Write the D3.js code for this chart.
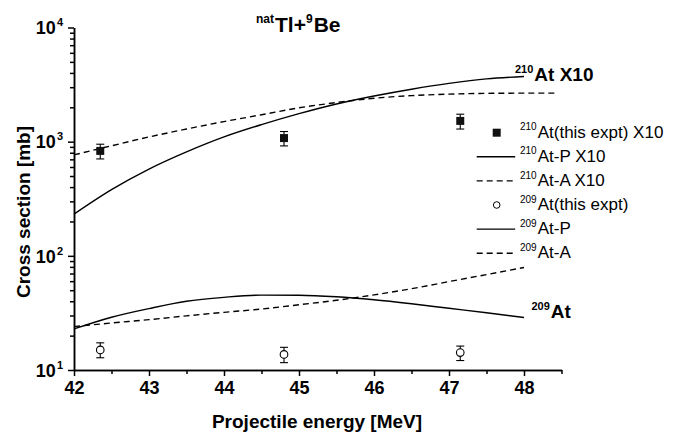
<!DOCTYPE html>
<html>
<head>
<meta charset="utf-8">
<script src="https://cdn.jsdelivr.net/npm/d3@7"></script>
<style>
    body { margin: 0; background: #fff; }
    svg { font-family: "Liberation Sans", Arial, sans-serif; }
    .axis path, .axis line { stroke: #000; stroke-width: 1.5; }
    .curve { fill: none; stroke: #000; stroke-width: 1.4; }
    .dashed { stroke-dasharray: 6, 4; }
    .errbar { stroke: #000; stroke-width: 1.1; }
    .bold { font-weight: bold; }
</style>
</head>
<body>
<div id="chart"></div>
<script>
// Cross sections of 210At and 209At from natTl + 9Be, log scale

let width = 676;
let height = 436;

// Energy grid of the model curves [MeV]
let energyGrid = [42, 42.5, 43, 43.5, 44, 44.5, 45, 45.5, 46, 46.5, 47, 47.5, 48];

// 210At-P X10 (solid)
let at210P = [232, 380, 575, 813, 1100, 1410, 1760, 2140, 2510, 2880, 3240, 3550, 3720];

// 210At-A X10 (dashed), runs a bit past 48 MeV
let at210AEnergy = [42, 42.5, 43, 43.5, 44, 44.5, 45, 45.5, 46, 46.5, 47, 47.5, 48, 48.45];
let at210A = [766, 920, 1100, 1290, 1500, 1720, 1980, 2200, 2400, 2530, 2610, 2650, 2660, 2660];

// 209At-P (solid) and 209At-A (dashed)
let at209P = [22.9, 29, 34.5, 40, 43.3, 45.3, 45.2, 43.8, 41.2, 38, 34.7, 31.7, 28.8];
let at209A = [24.0, 25.8, 27.6, 29.8, 32.0, 34.2, 37.3, 40.8, 45.5, 51.5, 59.5, 68.5, 79];

// Experimental points
let exptEnergy = [42.35, 44.8, 47.15];
let at210Expt = [830, 1075, 1520];
let at210Low = [706, 918, 1290];
let at210High = [950, 1227, 1740];
let at209Expt = [15.0, 13.7, 14.2];
let at209Low = [12.8, 11.6, 12.1];
let at209High = [17.3, 15.8, 16.2];

// Axis ticks
let xMajorTicks = [42, 43, 44, 45, 46, 47, 48];
let xMinorTicks = [42.5, 43.5, 44.5, 45.5, 46.5, 47.5, 48.5];
let yMajorTicks = [10, 100, 1000, 10000];
let yExponents = ["1", "2", "3", "4"];

// Legend entries
let legendSup = ["210", "210", "210", "209", "209", "209"];
let legendText = ["At(this expt) X10", "At-P X10", "At-A X10", "At(this expt)", "At-P", "At-A"];
let legendType = ["square", "solid", "dashed", "circle", "solid", "dashed"];

let svg = d3.select("#chart")
    .append("svg")
    .attr("width", width)
    .attr("height", height);

let xScale = d3.scaleLinear()
    .domain([42, 48.5])
    .range([74, 561.5]);

let yScale = d3.scaleLog()
    .domain([10, 10000])
    .range([370, 27.5]);

// minor log ticks: 2..9 in every decade
let yMinorTicks = [];
yMajorTicks.slice(0, 3).forEach(function (d) {
    for (let k = 2; k <= 9; k++) yMinorTicks.push(d * k);
});

// Axes
svg.append("g")
    .attr("class", "axis")
    .attr("transform", "translate(0," + yScale(10) + ")")
    .call(d3.axisBottom(xScale).tickValues(xMinorTicks).tickSize(4).tickSizeOuter(0).tickFormat(""));

let xAxisG = svg.append("g")
    .attr("class", "axis")
    .attr("transform", "translate(0," + yScale(10) + ")")
    .call(d3.axisBottom(xScale).tickValues(xMajorTicks).tickSize(6).tickSizeOuter(0).tickPadding(5).tickFormat(d3.format("d")));

xAxisG.selectAll(".tick text")
    .attr("font-size", 18)
    .attr("font-weight", "bold")
    .attr("fill", "#000");

svg.append("g")
    .attr("class", "axis")
    .attr("transform", "translate(" + xScale(42) + ",0)")
    .call(d3.axisLeft(yScale).tickValues(yMinorTicks).tickSize(4).tickSizeOuter(0).tickFormat(""));

let yAxisG = svg.append("g")
    .attr("class", "axis")
    .attr("transform", "translate(" + xScale(42) + ",0)")
    .call(d3.axisLeft(yScale).tickValues(yMajorTicks).tickSize(6).tickSizeOuter(0).tickFormat(""));

// 10^n labels with superscripts
yAxisG.selectAll(".tick text").remove();
yAxisG.selectAll(".tick").each(function (d, i) {
    let t = d3.select(this).append("text")
        .attr("x", -11)
        .attr("dy", "0.35em")
        .attr("text-anchor", "end")
        .attr("fill", "#000")
        .attr("font-size", 18)
        .attr("font-weight", "bold");
    t.append("tspan").text("10");
    t.append("tspan").attr("font-size", 11).attr("dy", -8).attr("dx", 1).text(yExponents[i]);
});

// Line generator
let line = d3.line()
    .x(function (d) { return xScale(d[0]); })
    .y(function (d) { return yScale(d[1]); })
    .curve(d3.curveMonotoneX);

svg.append("path").datum(d3.zip(energyGrid, at210P)).attr("class", "curve").attr("d", line);
svg.append("path").datum(d3.zip(at210AEnergy, at210A)).attr("class", "curve dashed").attr("d", line);
svg.append("path").datum(d3.zip(energyGrid, at209P)).attr("class", "curve").attr("d", line);
svg.append("path").datum(d3.zip(energyGrid, at209A)).attr("class", "curve dashed").attr("d", line);

// Error bars with caps
function drawErrors(low, high) {
    exptEnergy.forEach(function (e, i) {
        let x = xScale(e);
        svg.append("line").attr("class", "errbar")
            .attr("x1", x).attr("x2", x)
            .attr("y1", yScale(low[i])).attr("y2", yScale(high[i]));
        [low[i], high[i]].forEach(function (v) {
            svg.append("line").attr("class", "errbar")
                .attr("x1", x - 4).attr("x2", x + 4)
                .attr("y1", yScale(v)).attr("y2", yScale(v));
        });
    });
}

drawErrors(at210Low, at210High);
drawErrors(at209Low, at209High);

svg.selectAll(".sq")
    .data(d3.zip(exptEnergy, at210Expt))
    .enter().append("rect")
    .attr("class", "sq")
    .attr("x", function (d) { return xScale(d[0]) - 4; })
    .attr("y", function (d) { return yScale(d[1]) - 4; })
    .attr("width", 8)
    .attr("height", 8)
    .attr("fill", "#111");

svg.selectAll(".circ")
    .data(d3.zip(exptEnergy, at209Expt))
    .enter().append("circle")
    .attr("class", "circ")
    .attr("cx", function (d) { return xScale(d[0]); })
    .attr("cy", function (d) { return yScale(d[1]); })
    .attr("r", 3.8)
    .attr("fill", "#fff")
    .attr("stroke", "#000")
    .attr("stroke-width", 1.1);

// Text made of pieces, each piece [string, isSuperscript]
function richText(x, y, pieces, size, supSize, bold) {
    let t = svg.append("text")
        .attr("x", x)
        .attr("y", y)
        .attr("fill", "#000")
        .attr("font-weight", bold ? "bold" : "normal");
    let raised = false;
    let shift = size * 0.42;
    pieces.forEach(function (p) {
        let s = t.append("tspan").text(p[0]);
        if (p[1]) {
            s.attr("font-size", supSize).attr("dy", raised ? 0 : -shift);
            raised = true;
        } else {
            s.attr("font-size", size).attr("dy", raised ? shift : 0).attr("dx", raised ? 1 : 0);
            raised = false;
        }
    });
    return t;
}

// Title
richText(256, 31.5, [["nat", true], ["Tl+", false], ["9", true], ["Be", false]], 21, 12, true);

// Curve labels
richText(xScale(48) - 9, yScale(at210P[at210P.length - 1]) + 4.5, [["210", true], ["At X10", false]], 19, 11, true);
richText(xScale(48) + 7.5, yScale(at209P[at209P.length - 1]), [["209", true], ["At", false]], 19, 11, true);

// Legend
let legendX = 496.7;
let legendY0 = 132.7;
let legendStep = 24.1;

legendType.forEach(function (type, i) {
    let y = legendY0 + i * legendStep;
    if (type === "square") {
        svg.append("rect").attr("x", legendX - 4).attr("y", y - 4)
            .attr("width", 8).attr("height", 8).attr("fill", "#111");
    } else if (type === "circle") {
        svg.append("circle").attr("cx", legendX).attr("cy", y).attr("r", 3.3)
            .attr("fill", "#fff").attr("stroke", "#000").attr("stroke-width", 1);
    } else {
        svg.append("line")
            .attr("class", type === "dashed" ? "curve dashed" : "curve")
            .attr("x1", legendX - 20).attr("x2", legendX + 18.5)
            .attr("y1", y).attr("y2", y);
    }
    richText(520, y + 4.8, [[legendSup[i], true], [legendText[i], false]], 17, 10, false);
});

// Axis titles
svg.append("text")
    .attr("class", "bold")
    .attr("x", 317)
    .attr("y", 428)
    .attr("text-anchor", "middle")
    .attr("font-size", 19)
    .attr("fill", "#000")
    .text("Projectile energy [MeV]");

svg.append("text")
    .attr("class", "bold")
    .attr("transform", "translate(30,212) rotate(-90)")
    .attr("text-anchor", "middle")
    .attr("font-size", 19)
    .attr("fill", "#000")
    .text("Cross section [mb]");
</script>
</body>
</html>
